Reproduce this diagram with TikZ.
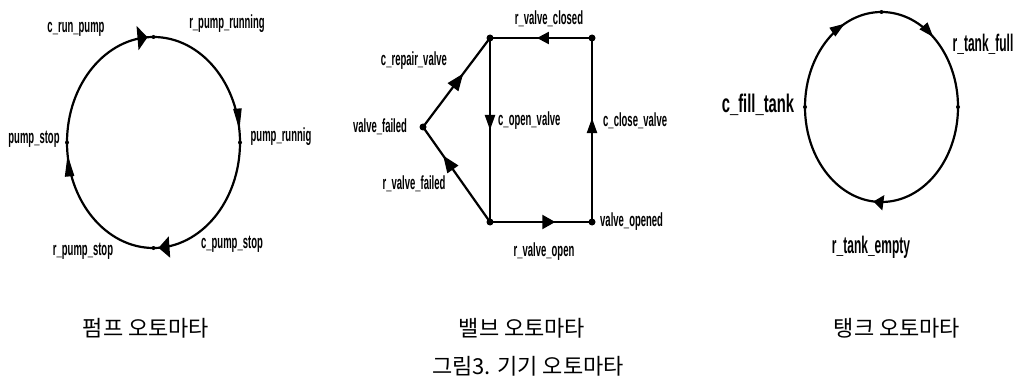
\documentclass[tikz,border=0pt]{standalone}
\usepackage{fontspec}
\setmainfont{Liberation Sans}
\newfontfamily\lblfont[FakeStretch=0.5]{Liberation Sans Bold}
\newfontfamily\lblfontw[FakeStretch=0.58]{Liberation Sans Bold}
\newfontfamily\krfont{Noto Sans CJK KR}
\usetikzlibrary{arrows.meta,decorations.markings}
\begin{document}
\begin{tikzpicture}[x=1pt,y=-1pt,
  dot/.style={circle,fill=black,inner sep=0pt,minimum size=#1},
  lbl/.style={font=\lblfont\fontsize{19}{19}\selectfont,inner sep=0pt},
  lbltank/.style={font=\lblfont\fontsize{24}{24}\selectfont,inner sep=0pt},
  lblbig/.style={font=\lblfontw\fontsize{25.5}{25.5}\selectfont,inner sep=0pt},
  captxt/.style={font=\krfont\fontsize{22}{22}\selectfont,inner sep=0pt},
  conn/.style={line width=2.2pt},
  marr/.style 2 args={decoration={markings,mark=at position #1 with {\arrow{#2}}},postaction={decorate}},
]
\useasboundingbox (0,0) rectangle (1017,377);

% ---------- pump automaton ----------
\node[dot=4pt] (P1) at (153.5,37) {};
\node[dot=4pt] (P2) at (240,142.5) {};
\node[dot=4pt] (P3) at (153.5,248) {};
\node[dot=4pt] (P4) at (67,142.5) {};
\draw[conn,marr={-6pt}{Triangle[length=10pt,width=24pt]}]
  (P4.center) arc[start angle=180,end angle=270,x radius=86.5,y radius=105.5];
\draw[conn,marr={-12pt}{Triangle[length=22pt,width=8pt]}]
  (P1.center) arc[start angle=270,end angle=360,x radius=86.5,y radius=105.5];
\draw[conn,marr={-5pt}{Triangle[length=11pt,width=21pt]}]
  (P2.center) arc[start angle=0,end angle=90,x radius=86.5,y radius=105.5];
\draw[conn,marr={-12pt}{Triangle[length=22pt,width=9pt]}]
  (P3.center) arc[start angle=90,end angle=180,x radius=86.5,y radius=105.5];
\node[lbl] (l1) at (76,29) {c\_run\_pump};
\node[lbl] (l2) at (227,24) {r\_pump\_running};
\node[lbl] (l3) at (281,137) {pump\_runnig};
\node[lbl] (l4) at (34,139) {pump\_stop};
\node[lbl] (l5) at (83,251) {r\_pump\_stop};
\node[lbl] (l6) at (232,244) {c\_pump\_stop};

% ---------- valve automaton ----------
\node[dot=7pt] (VTL) at (490,38) {};
\node[dot=7pt] (VTR) at (592,38) {};
\node[dot=7pt] (VBL) at (490,222) {};
\node[dot=7pt] (VBR) at (592,222) {};
\node[dot=7pt] (VF) at (423,127) {};
\draw[conn,marr={0.54}{Triangle[length=12pt,width=12pt]}] (VTR.center) -- (VTL.center);
\draw[conn,marr={0.5}{Triangle[length=15pt,width=10pt]}] (VTL.center) -- (VBL.center);
\draw[conn,marr={0.565}{Triangle[length=15pt,width=10pt]}] (VBR.center) -- (VTR.center);
\draw[conn,marr={0.64}{Triangle[length=13pt,width=14pt]}] (VBL.center) -- (VBR.center);
\draw[conn,marr={0.6}{Triangle[length=17pt,width=13pt]}] (VF.center) -- (VTL.center);
\draw[conn,marr={0.7}{Triangle[length=17pt,width=13pt]}] (VBL.center) -- (VF.center);
\node[lbl] (v1) at (549,19) {r\_valve\_closed};
\node[lbl] (v2) at (414,61) {c\_repair\_valve};
\node[lbl] (v3) at (380,127) {valve\_failed};
\node[lbl,anchor=west] (v4) at (498,121) {c\_open\_valve};
\node[lbl,anchor=west] (v5) at (603,121) {c\_close\_valve};
\node[lbl] (v6) at (414,184) {r\_valve\_failed};
\node[lbl,anchor=west] (v7) at (600,222) {valve\_opened};
\node[lbl] (v8) at (544,252) {r\_valve\_open};

% ---------- tank automaton ----------
\node[dot=4pt] (T1) at (881.5,12) {};
\node[dot=4pt] (T2) at (805,107) {};
\node[dot=4pt] (T3) at (958,107) {};
\draw[conn,marr={0.71}{Triangle[length=15pt,width=10pt]}]
  (T2.center) arc[start angle=180,end angle=270,x radius=76.5,y radius=95];
\draw[conn,marr={0.44}{Triangle[length=15pt,width=10pt]}]
  (T1.center) arc[start angle=270,end angle=360,x radius=76.5,y radius=95];
\draw[conn,marr={0.53}{Triangle[length=10pt,width=15pt]}]
  (T3.center) arc[start angle=0,end angle=180,x radius=76.5,y radius=95];
\node[lblbig] (t1) at (758,105) {c\_fill\_tank};
\node[lbltank] (t2) at (983,44) {r\_tank\_full};
\node[lbltank] (t3) at (871,247) {r\_tank\_empty};

% ---------- captions ----------
\node[captxt] (c1) at (146,328) {펌프 오토마타};
\node[captxt] (c2) at (522,328) {밸브 오토마타};
\node[captxt] (c3) at (897,328) {탱크 오토마타};
\node[captxt] (c4) at (528,366) {그림3. 기기 오토마타};
\end{tikzpicture}
\end{document}
